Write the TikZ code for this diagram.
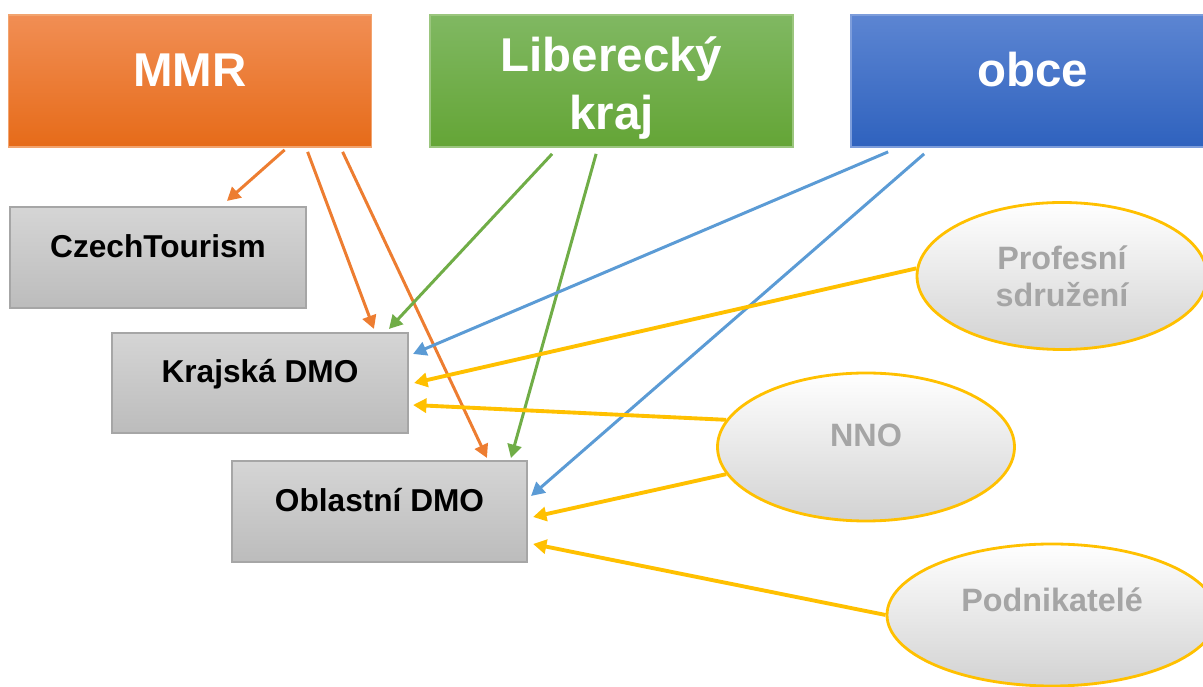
\documentclass[tikz,border=0pt]{standalone}
\usepackage{fontspec}
\setmainfont{Liberation Sans}
\usetikzlibrary{arrows.meta,shapes.geometric}

% colours
\definecolor{mmrTop}{HTML}{F18E54}
\definecolor{mmrBot}{HTML}{E66B19}
\definecolor{mmrLine}{HTML}{ED7D31}
\definecolor{lkTop}{HTML}{80B862}
\definecolor{lkBot}{HTML}{64A536}
\definecolor{lkLine}{HTML}{70AD47}
\definecolor{obTop}{HTML}{5C85D2}
\definecolor{obBot}{HTML}{2F62BE}
\definecolor{obLine}{HTML}{5B9BD5}
\definecolor{boxTop}{HTML}{D5D5D5}
\definecolor{boxBot}{HTML}{BCBCBC}
\definecolor{boxEdge}{HTML}{A6A6A6}
\definecolor{partnerEdge}{HTML}{FFC000}
\definecolor{partnerBot}{HTML}{D2D2D2}
\definecolor{partnerText}{HTML}{A5A5A5}

\tikzset{
  topbox/.style={rectangle, minimum width=3.63cm, minimum height=1.32cm, inner sep=0pt,
    line width=0.5pt, text=white, align=center,
    font=\fontsize{13.5}{16.5}\selectfont\bfseries},
  topline/.style={text height=0.45cm, text depth=0.33cm},
  dmobox/.style={rectangle, draw=boxEdge, line width=0.6pt, top color=boxTop, bottom color=boxBot,
    minimum width=2.96cm, minimum height=1.01cm, inner sep=0pt,
    font=\fontsize{9}{10.5}\selectfont\bfseries, text height=0.3cm, text depth=0.3cm},
  partner/.style={ellipse, draw=partnerEdge, line width=0.8pt, inner sep=0pt,
    top color=white, middle color=white!99!black, bottom color=partnerBot,
    text=partnerText, align=center, font=\fontsize{9.2}{10.6}\selectfont\bfseries},
  link/.style={line width=0.85pt, -{Triangle[length=3.8pt,width=4pt]}},
}

\begin{document}
\begin{tikzpicture}
\useasboundingbox (0,0) rectangle (12.03,6.87);

% top row
\node[topbox, topline, draw=mmrLine!70!white, top color=mmrTop, bottom color=mmrBot] (mmr) at (1.90, 6.06) {MMR};
\node[topbox, draw=lkLine!70!white, top color=lkTop, bottom color=lkBot] (lk) at (6.115, 6.06) {\rule{0pt}{0.48cm}Liberecký\\kraj};
\node[topbox, topline, draw=obTop!80!white, top color=obTop, bottom color=obBot] (obce) at (10.325, 6.06) {obce};

% DMO boxes
\node[dmobox] (ct) at (1.58, 4.295) {CzechTourism};
\node[dmobox, minimum height=1.0cm] (kdmo) at (2.60, 3.04) {Krajská DMO};
\node[dmobox, minimum width=2.95cm] (odmo) at (3.795, 1.755) {Oblastní DMO};

% partners
\node[partner, minimum width=2.90cm, minimum height=1.47cm] (ps) at (10.62, 4.11) {Profesní\\sdružení};
\node[partner, minimum width=2.97cm, minimum height=1.48cm, text height=0.3cm, text depth=0.3cm] (nno) at (8.66, 2.40) {NNO};
\node[partner, minimum width=3.30cm, minimum height=1.42cm, text height=0.3cm, text depth=0.36cm] (pod) at (10.52, 0.72) {Podnikatelé};

% MMR
\draw[link, mmrLine] ([shift={(2.77,-0.02)}]mmr.south west) -- ([shift={(2.18,0.05)}]ct.north west);
\draw[link, mmrLine] ([shift={(3.00,-0.04)}]mmr.south west) -- ([shift={(2.63,0.03)}]kdmo.north west);
\draw[link, mmrLine] ([shift={(3.35,-0.04)}]mmr.south west) -- ([shift={(2.56,0.02)}]odmo.north west);

% Liberecky kraj
\draw[link, lkLine] ([shift={(1.23,-0.06)}]lk.south west) -- ([shift={(2.78,0.03)}]kdmo.north west);
\draw[link, lkLine] ([shift={(1.67,-0.06)}]lk.south west) -- ([shift={(2.80,0.02)}]odmo.north west);

% obce
\draw[link, obLine] ([shift={(0.38,-0.04)}]obce.south west) -- ([shift={(0.04,-0.22)}]kdmo.north east);
\draw[link, obLine] ([shift={(0.74,-0.06)}]obce.south west) -- ([shift={(0.03,-0.36)}]odmo.north east);

% partners
\draw[link, partnerEdge, line width=1.1pt] (ps.177) -- ([shift={(0.05,0)}]kdmo.east);
\draw[link, partnerEdge, line width=1.1pt] (nno.169) -- ([shift={(0.04,-0.22)}]kdmo.east);
\draw[link, partnerEdge, line width=1.1pt] (nno.191) -- ([shift={(0.05,-0.055)}]odmo.east);
\draw[link, partnerEdge, line width=1.1pt] (pod.west) -- ([shift={(0.05,-0.325)}]odmo.east);
\end{tikzpicture}
\end{document}
